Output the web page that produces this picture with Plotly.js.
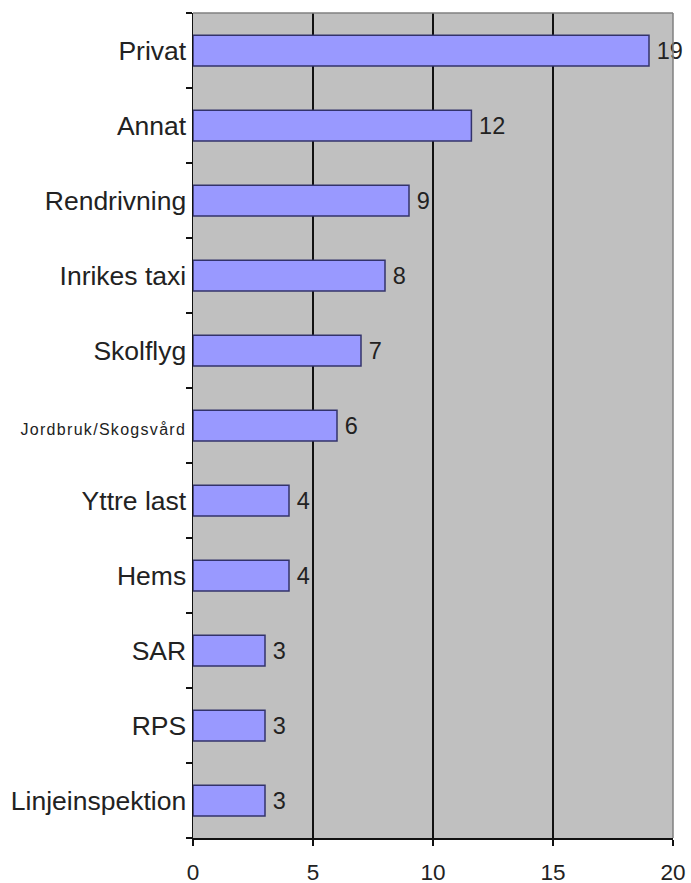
<!DOCTYPE html>
<html>
<head>
<meta charset="utf-8">
<script src="https://cdn.plot.ly/plotly-3.0.1.min.js"></script>
<style>html,body{margin:0;padding:0;background:#fff;}#chart{width:691px;height:883px;}</style>
</head>
<body>
<div id="chart"></div>
<script>
var categories = ["Privat","Annat","Rendrivning","Inrikes taxi","Skolflyg","Jordbruk/Skogsvård","Yttre last","Hems","SAR","RPS","Linjeinspektion"];
var values = [19, 11.6, 9, 8, 7, 6, 4, 4, 3, 3, 3];
var xTicks = [0, 5, 10, 15, 20];

var tickText = categories.map(function(c){
  return c === "Jordbruk/Skogsvård" ? '<span style="font-size:16px;letter-spacing:1.3px">' + c + '</span>' : c;
});

var trace = {
  type: 'bar',
  orientation: 'h',
  y: categories,
  x: values,
  width: 0.41,
  marker: {color: '#9999ff', line: {color: '#33336b', width: 1.5}},
  texttemplate: '\u2009%{x:.0f}',
  textposition: 'outside',
  cliponaxis: false,
  textfont: {family: 'Liberation Sans, Arial, sans-serif', size: 23.5, color: '#222'},
  hoverinfo: 'none'
};

var layout = {
  width: 691, height: 883,
  margin: {l: 193, r: 18, t: 13, b: 45, pad: 0},
  paper_bgcolor: '#ffffff',
  plot_bgcolor: '#c0c0c0',
  showlegend: false,
  bargap: 0.59,
  font: {family: 'Liberation Sans, Arial, sans-serif', color: '#222'},
  xaxis: {
    range: [0, 20],
    tickvals: xTicks,
    ticktext: xTicks.map(String),
    showgrid: true, gridcolor: '#111', gridwidth: 1.5,
    zeroline: false,
    showline: true, linecolor: '#111', linewidth: 1.5,
    ticks: 'outside', ticklen: 6, tickcolor: '#111', tickwidth: 1.5,
    tickfont: {size: 22.5, color: '#222'},
    ticklabelstandoff: 7,
    fixedrange: true
  },
  yaxis: {
    type: 'category',
    autorange: 'reversed',
    tickvals: categories,
    ticktext: tickText,
    tickson: 'boundaries',
    showgrid: false,
    zeroline: false,
    showline: true, linecolor: '#111', linewidth: 1.5,
    ticks: 'outside', ticklen: 6, tickcolor: '#111', tickwidth: 1.5,
    tickfont: {size: 26.5, color: '#222'},
    ticklabelstandoff: 0,
    fixedrange: true
  },
  shapes: [
    {type: 'line', xref: 'paper', yref: 'paper', x0: 0, x1: 1, y0: 1, y1: 1, line: {color: '#808080', width: 1.5}},
    {type: 'line', xref: 'paper', yref: 'paper', x0: 1, x1: 1, y0: 0, y1: 1, line: {color: '#808080', width: 1.5}}
  ]
};

Plotly.newPlot('chart', [trace], layout, {displayModeBar: false, staticPlot: true});
</script>
</body>
</html>
